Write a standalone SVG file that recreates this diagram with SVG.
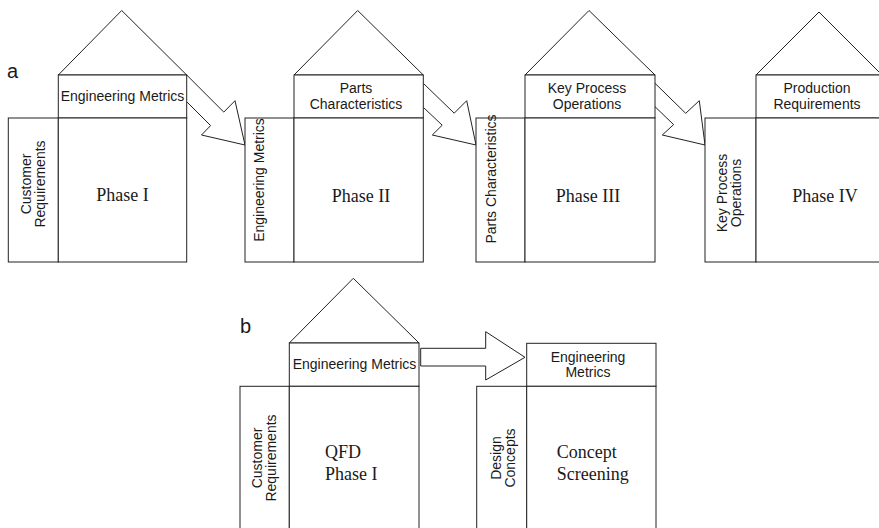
<svg xmlns="http://www.w3.org/2000/svg" width="879" height="528" viewBox="0 0 879 528">
<style>
.s{fill:#fff;stroke:#222;stroke-width:1}
.r{fill:none;stroke:#222;stroke-width:1;stroke-linejoin:miter}
.sans{font-family:"Liberation Sans",Arial,sans-serif;font-size:14px;fill:#1a1a1a}
.serif{font-family:"Liberation Serif","Times New Roman",serif;font-size:18px;fill:#1a1a1a}
.big{font-family:"Liberation Sans",Arial,sans-serif;font-size:20px;fill:#1a1a1a}
.c{text-anchor:middle}
</style>
<rect width="879" height="528" fill="#fff"/>
<text class="big" x="7" y="78">a</text>
<text class="big" x="240" y="333">b</text>

<g id="connectors">
<polyline class="s" points="186.7,75 223.8,112.1 235,100.7 245,145 201.5,135 210.6,125.6 186.7,101.7"/>
<polyline class="s" points="423.3,83.3 454.2,113.2 466.7,100.7 476,145 432.3,135 442.2,125.2 423.3,107.3"/>
<polyline class="s" points="655,83.3 685.7,113.3 699.3,100.7 705,145 662.3,135 673.6,124.6 655,106.7"/>
<polygon class="s" points="420.7,348.3 485.7,348.3 485.7,331.7 525,357.3 485.7,380 485.7,366 420.7,366"/>
</g>

<g id="phase1">
<polygon class="r" points="58.3,75 121.7,10.5 186.7,75"/>
<rect class="s" x="58.3" y="75" width="128.4" height="43"/>
<rect class="s" x="8.3" y="118" width="50" height="144"/>
<rect class="s" x="58.3" y="118" width="128.4" height="144"/>
<text class="sans c" x="122.5" y="101">Engineering Metrics</text>
<text class="sans c" transform="translate(30.5,184) rotate(-90)"><tspan x="0" y="0">Customer</tspan><tspan x="0" y="14">Requirements</tspan></text>
<text class="serif c" x="122.5" y="201">Phase I</text>
</g>

<g id="phase2">
<polygon class="r" points="294,75 357.7,10.5 423.3,75"/>
<rect class="s" x="294" y="75" width="129.3" height="43"/>
<rect class="s" x="245" y="118" width="49" height="144"/>
<rect class="s" x="294" y="118" width="129.3" height="144"/>
<text class="sans c" x="356" y="93.3">Parts</text>
<text class="sans c" x="356" y="108.5">Characteristics</text>
<text class="sans c" transform="translate(264,180) rotate(-90)">Engineering Metrics</text>
<text class="serif c" x="361" y="201.5">Phase II</text>
</g>

<g id="phase3">
<polygon class="r" points="525,75 589,10.5 655,75"/>
<rect class="s" x="525" y="75" width="130" height="43"/>
<rect class="s" x="476" y="118" width="49" height="144"/>
<rect class="s" x="525" y="118" width="130" height="144"/>
<text class="sans c" x="587" y="93.3">Key Process</text>
<text class="sans c" x="587" y="108.5">Operations</text>
<text class="sans c" transform="translate(495.7,179) rotate(-90)">Parts Characteristics</text>
<text class="serif c" x="588" y="201.5">Phase III</text>
</g>

<g id="phase4">
<polygon class="r" points="756,75 819,12 882,75"/>
<rect class="s" x="756" y="75" width="126" height="43"/>
<rect class="s" x="705" y="118" width="51" height="144"/>
<rect class="s" x="756" y="118" width="126" height="144"/>
<text class="sans c" x="817" y="93.3">Production</text>
<text class="sans c" x="817" y="108.5">Requirements</text>
<text class="sans c" transform="translate(727,193) rotate(-90)"><tspan x="0" y="0">Key Process</tspan><tspan x="0" y="14">Operations</tspan></text>
<text class="serif c" x="825" y="201.5">Phase IV</text>
</g>

<g id="qfd">
<polygon class="r" points="289.3,343 353.3,278.3 419,343"/>
<rect class="s" x="289.3" y="343" width="129.7" height="43.3"/>
<rect class="s" x="240" y="386.3" width="49.3" height="150"/>
<rect class="s" x="289.3" y="386.3" width="129.7" height="150"/>
<text class="sans c" x="354.5" y="369">Engineering Metrics</text>
<text class="sans c" transform="translate(261.5,458) rotate(-90)"><tspan x="0" y="0">Customer</tspan><tspan x="0" y="14">Requirements</tspan></text>
<text class="serif" x="325" y="457.5">QFD</text>
<text class="serif" x="325" y="479.5">Phase I</text>
</g>

<g id="concept">
<rect class="s" x="526.7" y="343.3" width="129.3" height="43"/>
<rect class="s" x="476.7" y="386.3" width="50" height="150"/>
<rect class="s" x="526.7" y="386.3" width="129.3" height="150"/>
<text class="sans c" x="588" y="361.7">Engineering</text>
<text class="sans c" x="588" y="376.7">Metrics</text>
<text class="sans c" transform="translate(500.5,458) rotate(-90)"><tspan x="0" y="0">Design</tspan><tspan x="0" y="14">Concepts</tspan></text>
<text class="serif" x="556.7" y="457.5">Concept</text>
<text class="serif" x="556.7" y="479.5">Screening</text>
</g>
</svg>
